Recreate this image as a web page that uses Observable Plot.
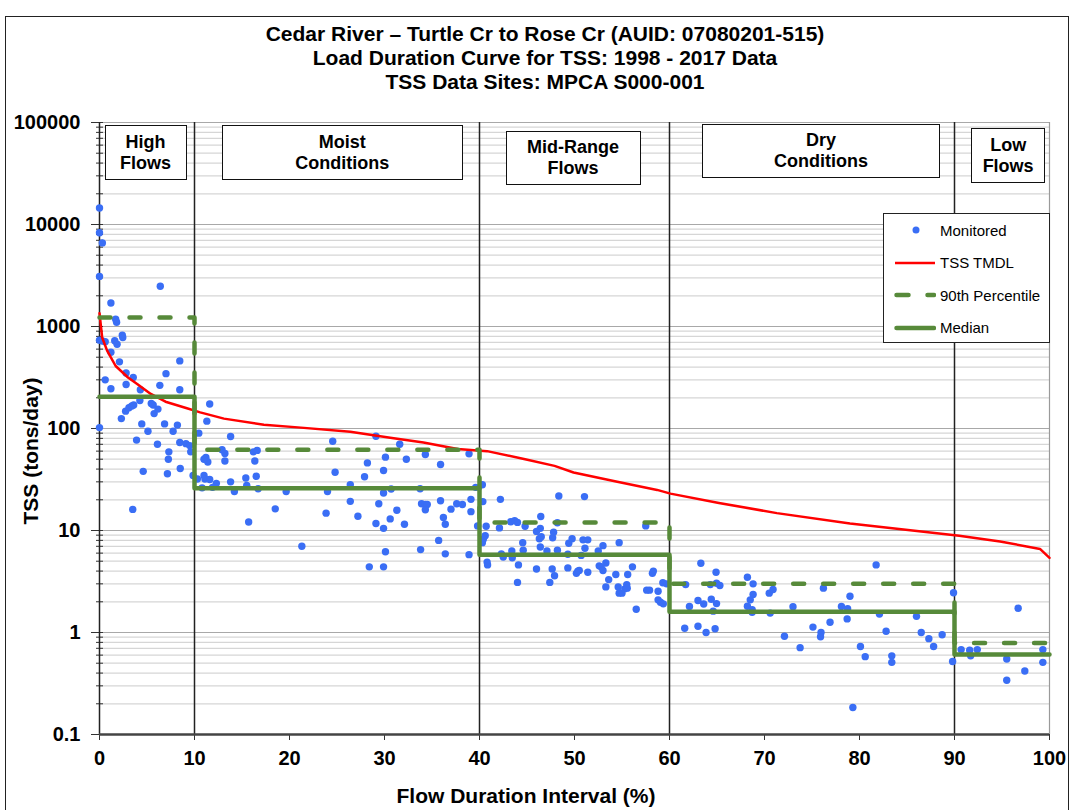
<!DOCTYPE html>
<html>
<head>
<meta charset="utf-8">
<script src="https://cdn.jsdelivr.net/npm/d3@7"></script>
<script src="https://cdn.jsdelivr.net/npm/@observablehq/plot@0.6"></script>
<style>
  body { margin: 0; background: #fff; font-family: "Liberation Sans", Arial, sans-serif; color: #000; }
  #page { position: relative; width: 1074px; height: 810px; overflow: hidden; background: #fff; }
  #frame { position: absolute; left: 5px; top: 16px; width: 1064px; height: 820px; border: 1.5px solid #222; box-sizing: border-box; }
  #title { position: absolute; left: 0; top: 22px; width: 1090px; text-align: center; font-weight: bold; font-size: 21px; line-height: 24px; }
  #chart { position: absolute; left: 0; top: 100px; }
  .zone { position: absolute; box-sizing: border-box; border: 1.5px solid #111; background: #fff; font-weight: bold; font-size: 18px; line-height: 21px; text-align: center; display: flex; flex-direction: column; align-items: center; justify-content: center; }
  .axis-title { position: absolute; font-weight: bold; font-size: 21px; white-space: nowrap; }
  #ytitle { transform: translate(-50%, -50%) rotate(-90deg); }
  #xtitle { transform: translate(-50%, -50%); }
  #legend { position: absolute; left: 883px; top: 213px; width: 167px; height: 130px; box-sizing: border-box; border: 1.5px solid #222; background: #fff; font-size: 15px; }
  #legend .row { position: absolute; left: 10px; height: 16px; display: flex; align-items: center; }
  #legend svg { margin-right: 4px; }
</style>
</head>
<body>
<div id="page">
  <div id="frame"></div>
  <div id="title">
    <div>Cedar River – Turtle Cr to Rose Cr (AUID: 07080201-515)</div>
    <div>Load Duration Curve for TSS: 1998 - 2017 Data</div>
    <div>TSS Data Sites: MPCA S000-001</div>
  </div>
  <div id="chart"></div>
</div>
<script>
// Monitored TSS loads as [flow duration interval (%), tons/day], by flow zone
const highFlowSamples = [
  [0, 14500], [0, 8300], [0.3, 6600], [0, 3100], [6.4, 2480], [1.2, 1700], [1.7, 1180], [1.8, 1100],
  [0, 735], [0.3, 720], [0.6, 710], [1.6, 725], [1.85, 670], [2.4, 820], [2.45, 780], [1.2, 560], [2.1, 450],
  [2.8, 350], [3.55, 316], [0.6, 300], [2.8, 270], [1.2, 245], [4.3, 240], [6.35, 265], [7.0, 345], [8.45, 460], [8.45, 240],
  [4.25, 188], [5.45, 176], [5.65, 170], [2.3, 125], [2.75, 148], [3.1, 160], [3.4, 166], [3.6, 170],
  [5.75, 140], [6.15, 155], [6.85, 111], [4.45, 111], [5.1, 94], [0, 102], [3.9, 77], [7.75, 94], [8.2, 108],
  [6.1, 70], [8.45, 73], [9.1, 71], [9.5, 68], [7.3, 59], [7.25, 50], [9.6, 59], [4.6, 38], [7.15, 36], [8.5, 40.5],
  [9.85, 34.6], [3.5, 16.1]
];
const moistSamples = [
  [10.45, 90], [11.3, 118], [11.6, 174], [13.8, 83.5], [12.9, 62], [13.2, 57], [13.2, 48], [11.2, 52], [11.4, 47], [11.0, 50],
  [16.2, 59], [16.6, 61], [16.35, 48], [10.3, 32], [11.0, 34.6], [11.1, 32], [11.6, 31.6], [12.3, 29], [10.8, 26.2], [11.9, 26.5],
  [13.8, 30], [14.2, 24.1], [15.4, 32.7], [15.5, 27.7], [16.5, 34], [16.7, 25.7], [15.7, 12.1], [18.5, 16.3], [19.65, 24.1], [21.3, 7.0],
  [24.8, 37.2], [24.55, 75], [24.0, 24.1], [23.85, 14.8], [26.4, 28.1], [26.4, 19.3], [27.2, 13.8], [27.9, 33.6], [28.2, 46], [29.1, 84],
  [28.4, 4.4], [29.9, 4.4], [30.1, 6.2], [29.1, 11.7], [29.4, 18.3], [29.9, 10.5], [29.9, 23.3], [29.9, 38.7], [30.1, 52.4], [30.6, 13],
  [30.7, 25.5], [31.3, 15.8], [31.6, 70], [32.3, 50], [32.1, 11.5], [33.75, 25.7], [34.3, 55.6], [33.8, 6.5], [33.9, 18.3], [34.3, 18],
  [34.5, 18], [34.3, 16], [35.9, 44.3], [35.9, 19.6], [35.7, 8.0], [36.2, 13.4], [36.4, 11.5], [36.4, 5.9], [37.0, 16.2], [37.6, 18.3],
  [38.2, 18.0], [39.1, 20.2], [39.1, 15.3], [38.9, 56.4], [38.9, 5.8], [39.8, 11.1], [39.6, 26.5]
];
const midRangeSamples = [
  [40.3, 28.1], [40.35, 19.2], [40.7, 11], [40.6, 8.9], [40.4, 8.2], [40.3, 7.6], [40.8, 4.9], [40.85, 4.6],
  [42.2, 20.2], [42.1, 10.6], [42.3, 5.9], [42.5, 5.5], [43.3, 12.2], [43.7, 12.5], [44.0, 12], [43.4, 6.3], [43.45, 5.4], [44.1, 4.6], [44.0, 3.1],
  [44.55, 7.6], [44.6, 6.4], [44.8, 11.0], [46.0, 9.8], [46.4, 10.5], [46.3, 8.3], [46.5, 8.7], [46.4, 6.9], [46.45, 13.7], [46.0, 4.2],
  [47.1, 6.3], [47.65, 4.2], [47.9, 3.6], [47.4, 3.1], [47.7, 8.5], [47.8, 9.6], [48.2, 11.9], [48.35, 21.8], [48.2, 6.4],
  [49.3, 5.85], [49.3, 4.3], [49.4, 7.5], [49.75, 8.3], [50.2, 3.8], [50.35, 4.0], [50.5, 4.05], [50.7, 5.7], [51.05, 21.5], [50.9, 8.1],
  [51.4, 8.1], [51.1, 6.7], [51.4, 3.9], [52.5, 6.3], [53.0, 7.1], [52.6, 4.5], [52.8, 4.4], [53.0, 4.05], [53.3, 4.8], [53.6, 3.3],
  [53.3, 2.8], [54.7, 7.6], [54.35, 3.7], [54.6, 2.8], [54.7, 2.43], [55.0, 2.43], [55.3, 2.68], [55.5, 2.95], [55.55, 2.72], [55.6, 3.7],
  [56.1, 4.4], [56.5, 1.69], [57.5, 11.1], [57.6, 2.6], [57.9, 2.6], [58.2, 3.8], [58.3, 4.0], [58.8, 2.54], [58.8, 2.09], [59.05, 1.98],
  [59.35, 1.91], [59.3, 3.07], [59.7, 3.0]
];
const drySamples = [
  [61.6, 1.1], [61.7, 2.95], [62.1, 1.8], [63.3, 4.77], [63.0, 2.06], [63.6, 1.9], [63.0, 1.15], [63.85, 1.0], [64.8, 1.09], [64.4, 2.12],
  [64.95, 1.92], [64.6, 1.62], [64.3, 2.95], [64.95, 3.04], [65.3, 2.89], [64.9, 3.9], [68.2, 3.48], [68.8, 3.0], [68.8, 2.36], [68.5, 2.09],
  [68.2, 1.81], [68.7, 1.67], [68.7, 1.58], [70.5, 2.43], [70.9, 2.64], [70.6, 1.55], [72.1, 0.92], [73.0, 1.79], [73.75, 0.71], [75.1, 1.13],
  [75.95, 1.0], [75.9, 0.91], [76.2, 2.72], [76.9, 1.26], [78.1, 1.8], [78.75, 1.71], [78.7, 1.36], [79.0, 2.27], [79.3, 0.184], [80.1, 0.73],
  [80.6, 0.58], [81.75, 4.6], [82.1, 1.52], [82.8, 1.03], [83.4, 0.59], [83.4, 0.51], [86.0, 1.44], [86.5, 1.0], [87.3, 0.87], [87.8, 0.73],
  [88.7, 0.95], [89.8, 0.52], [89.9, 2.45]
];
const lowFlowSamples = [
  [90.7, 0.68], [91.6, 0.67], [91.7, 0.59], [92.4, 0.68], [95.5, 0.55], [95.5, 0.34], [96.7, 1.73], [97.4, 0.42], [99.3, 0.68], [99.3, 0.51]
];

// TSS TMDL load duration curve [flow %, tons/day]
const tmdlCurve = [
  [0, 1350], [0.28, 780], [0.8, 580], [1.7, 410], [3.0, 316], [4.0, 272], [5.4, 218], [6.95, 183], [9.2, 158], [10.6, 144],
  [13.1, 125], [17.3, 109], [21.2, 102], [26.4, 93], [30.6, 81], [34.1, 73], [37.7, 63], [40.8, 60], [44.8, 50], [47.9, 43],
  [49.9, 37], [54.5, 30], [58.7, 25], [60.1, 23], [65.2, 18.6], [71.3, 14.8], [79, 11.7], [90.5, 8.9], [94.8, 7.8], [99, 6.6], [100, 5.4]
];

// Flow zone statistics (step values start at each zone's lower bound)
const zoneStarts = [0, 10, 40, 60, 90, 100];
const p90Values = [1225, 62, 12, 3.0, 0.79, 0.79];
const medianValues = [205, 26, 5.8, 1.6, 0.61, 0.61];

// Zone boundaries and names
const zoneBreaks = [10, 40, 60, 90];
const zoneNames = [["High", "Flows"], ["Moist", "Conditions"], ["Mid-Range", "Flows"], ["Dry", "Conditions"], ["Low", "Flows"]];

// Axis ticks
const xTicks = [0, 10, 20, 30, 40, 50, 60, 70, 80, 90, 100];
const yDecades = [0.1, 1, 10, 100, 1000, 10000, 100000];

const samples = [...highFlowSamples, ...moistSamples, ...midRangeSamples, ...drySamples, ...lowFlowSamples]
  .map(([flow, tss]) => ({flow, tss}));
const tmdl = tmdlCurve.map(([flow, tss]) => ({flow, tss}));
const p90 = zoneStarts.map((flow, i) => ({flow, tss: p90Values[i]}));
const median = zoneStarts.map((flow, i) => ({flow, tss: medianValues[i]}));
const yMinor = yDecades.slice(0, -1).flatMap(d => d3.range(2, 10).map(m => +(m * d).toPrecision(3)));

const GREEN = "#578a3a";
const BLUE = "#3a6ef5";
const RED = "#ff0000";

const chart = Plot.plot({
  width: 1074,
  height: 710,
  marginTop: 22,
  marginLeft: 99,
  marginRight: 25,
  marginBottom: 76,
  style: {fontFamily: "Liberation Sans, Arial, sans-serif", color: "#000", background: "transparent", overflow: "visible"},
  x: {domain: [0, 100]},
  y: {type: "log", domain: [0.1, 100000]},
  marks: [
    Plot.ruleY(yMinor, {stroke: "#d6d6d6", strokeWidth: 1.2}),
    Plot.ruleY(yDecades, {stroke: "#a8a8a8", strokeWidth: 1.2}),
    Plot.ruleX([100], {stroke: "#9a9a9a", strokeWidth: 1.2}),
    Plot.ruleX(zoneBreaks, {stroke: "#222", strokeWidth: 1.5}),
    // tick marks crossing the value axis: short outward minors, longer outward majors, inward stubs on all
    Plot.axisY({ticks: yMinor, tickSize: 3, tickFormat: () => "", label: null, stroke: "#333"}),
    Plot.axisY({ticks: [...yMinor, ...yDecades], tickSize: -4, tickFormat: () => "", label: null, stroke: "#333"}),
    Plot.axisY({ticks: yDecades, tickSize: 8, tickPadding: 11, tickFormat: d => String(d), label: null,
      fontSize: 20, fontWeight: "bold", stroke: "#333"}),
    Plot.axisX({ticks: xTicks, tickSize: 6, tickPadding: 10, tickFormat: d => String(d), label: null,
      fontSize: 20, fontWeight: "bold", stroke: "#333"}),
    Plot.ruleX([0], {stroke: "#222", strokeWidth: 1.5}),
    Plot.ruleY([0.1], {stroke: "#444", strokeWidth: 2.5}),
    Plot.dot(samples, {x: "flow", y: "tss", r: 3.7, fill: BLUE, stroke: "none"}),
    Plot.line(tmdl, {x: "flow", y: "tss", stroke: RED, strokeWidth: 2.5, curve: "linear"}),
    Plot.line(p90, {x: "flow", y: "tss", curve: "step-after", stroke: GREEN, strokeWidth: 4.5,
      strokeDasharray: "11,19", strokeLinecap: "round"}),
    Plot.line(median, {x: "flow", y: "tss", curve: "step-after", stroke: GREEN, strokeWidth: 4.5})
  ]
});
document.getElementById("chart").appendChild(chart);

const page = document.getElementById("page");
const xs = chart.scale("x");

// Zone name boxes along the top of the plot
const zoneBoxes = [
  {center: 4.9, width: 82, top: 125, height: 55},
  {center: 25.6, width: 241, top: 125, height: 55},
  {center: 49.9, width: 135, top: 131, height: 54},
  {center: 76.0, width: 238, top: 124, height: 54},
  {center: 95.7, width: 74, top: 128, height: 55}
];
zoneNames.forEach((lines, i) => {
  const b = zoneBoxes[i];
  const el = document.createElement("div");
  el.className = "zone";
  el.style.left = (xs.apply(b.center) - b.width / 2) + "px";
  el.style.top = b.top + "px";
  el.style.width = b.width + "px";
  el.style.height = b.height + "px";
  lines.forEach(t => { const s = document.createElement("div"); s.textContent = t; el.appendChild(s); });
  page.appendChild(el);
});

// Axis titles
const yt = document.createElement("div");
yt.className = "axis-title"; yt.id = "ytitle"; yt.textContent = "TSS (tons/day)";
yt.style.left = "31px"; yt.style.top = "451px";
page.appendChild(yt);
const xt = document.createElement("div");
xt.className = "axis-title"; xt.id = "xtitle"; xt.textContent = "Flow Duration Interval (%)";
xt.style.left = "526px"; xt.style.top = "796px";
page.appendChild(xt);

// Legend
const legend = document.createElement("div");
legend.id = "legend";
const legendItems = [
  {label: "Monitored", kind: "dot"},
  {label: "TSS TMDL", kind: "red"},
  {label: "90th Percentile", kind: "dash"},
  {label: "Median", kind: "solid"}
];
legendItems.forEach((item, i) => {
  const row = document.createElement("div");
  row.className = "row";
  row.style.top = (8 + i * 32.5) + "px";
  const svg = d3.create("svg").attr("width", 42).attr("height", 16);
  if (item.kind === "dot") {
    svg.append("circle").attr("cx", 22).attr("cy", 8).attr("r", 3.5).attr("fill", BLUE);
  } else if (item.kind === "red") {
    svg.append("line").attr("x1", 1).attr("x2", 41).attr("y1", 8).attr("y2", 8).attr("stroke", RED).attr("stroke-width", 2.5);
  } else {
    svg.append("line").attr("x1", 2.5).attr("x2", 40).attr("y1", 8).attr("y2", 8).attr("stroke", GREEN)
      .attr("stroke-width", 4.5).attr("stroke-linecap", "round")
      .attr("stroke-dasharray", item.kind === "dash" ? "12,19" : null);
  }
  row.appendChild(svg.node());
  const span = document.createElement("span");
  span.textContent = item.label;
  row.appendChild(span);
  legend.appendChild(row);
});
page.appendChild(legend);
</script>
</body>
</html>
